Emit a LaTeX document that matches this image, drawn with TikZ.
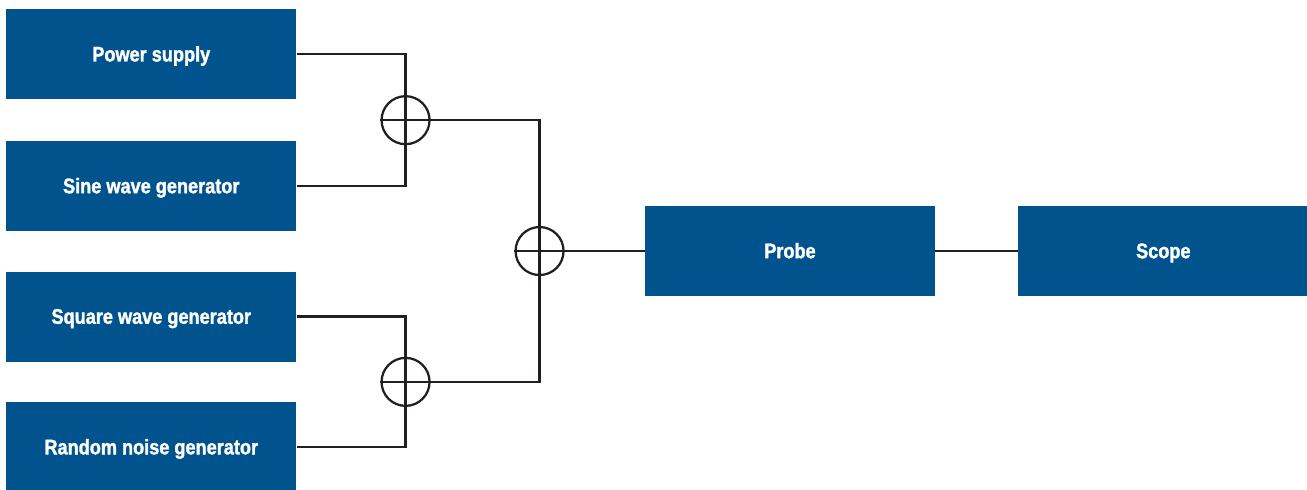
\documentclass[tikz,border=0pt]{standalone}
\usepackage{fontspec}
\newfontfamily\blockfont[FakeStretch=0.86, BoldFeatures={FakeBold=1.5}]{Liberation Sans}
\usepackage{tikz}
\usetikzlibrary{positioning,calc}
\definecolor{blockblue}{RGB}{0,83,140}
\definecolor{wiregray}{RGB}{35,31,32}
\tikzset{
	block/.style = {fill=blockblue, rectangle, minimum height=2.25cm, minimum width=7.25cm, text height=10.2pt, text depth=0pt, text=white, font=\blockfont\fontsize{15}{18}\selectfont\bfseries},
	sum/.style= {draw, circle, minimum size=1.2cm, inner sep=0pt},
	wire/.style = {line width=1.6pt, wiregray}
}

\begin{document}
\begin{tikzpicture}[auto]
\useasboundingbox (0,0) rectangle (32.675,-12.225);
\node [block, anchor=north west] (power) at (0.15,-0.225) {Power supply};
\node [block, below=1.03cm of power] (sine) {Sine wave generator};
\node [block, below=1.0cm of sine] (square) {Square wave generator};
\node [block, below=1.0cm of square] (noise) {Random noise generator};

\node [sum, wire] (sum1) at ($(power.east)!0.5!(sine.east)+(2.725,0)$) {};
\node [sum, wire] (sum3) at ($(square.east)!0.5!(noise.east)+(2.725,0)$) {};
\node [sum, wire] (sum2) at ($(sum1)!0.5!(sum3)+(3.35,0)$) {};

\node [block, right=2.0cm of sum2] (probe) {Probe};
\node [block, right=2.07cm of probe] (scope) {Scope};

\draw [wire] (power.east) -| (sum1.south) |- (sine.east);
\draw [wire] (square.east) -| (sum3.south) |- (noise.east);
\draw [wire] (sum1.west) -- (sum1.east) -| (sum2.south) |- (sum3.east) -- (sum3.west);
\draw [wire] (sum2.west) -- (probe);
\draw [wire] (probe) -- (scope);
\end{tikzpicture}
\end{document}
